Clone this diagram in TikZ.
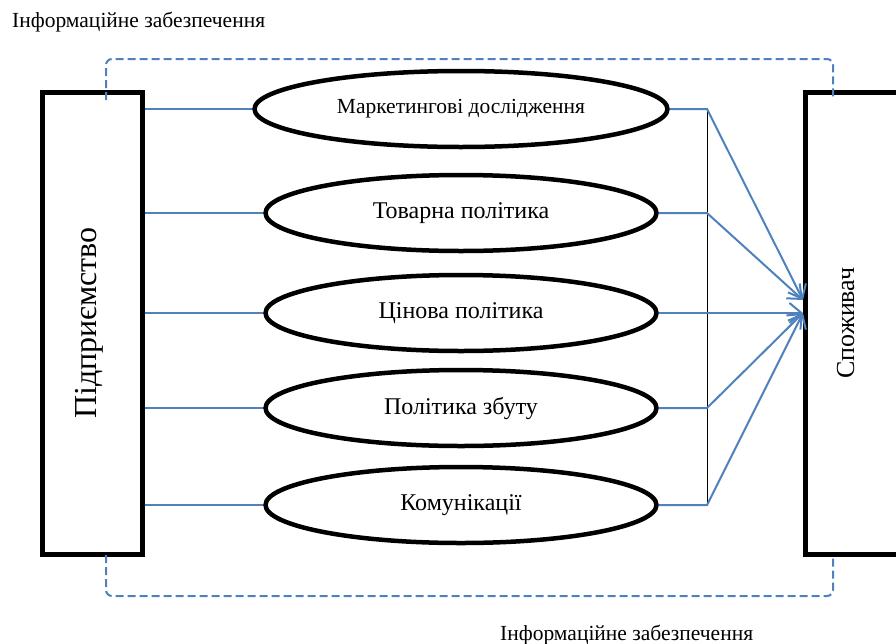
\documentclass[tikz,border=0pt]{standalone}
\usepackage{fontspec}
\setmainfont{Liberation Serif}
\usetikzlibrary{arrows.meta,positioning,shapes.geometric,calc}
\definecolor{linkblue}{HTML}{4F81BD}

\begin{document}
\begin{tikzpicture}[x=1pt, y=-1pt, >={Straight Barb[length=12pt, width=20pt]},
  every node/.style={inner sep=0pt, align=center},
  bigbox/.style={draw, line width=5pt, minimum width=100pt, minimum height=462pt},
  area/.style={draw, ellipse, line width=4.5pt, minimum width=391pt, minimum height=76pt, font=\fontsize{24}{28}\selectfont},
  link/.style={linkblue, line width=2pt},
  infoline/.style={linkblue, line width=2pt, dash pattern=on 8pt off 4pt, rounded corners=6pt}]
  \clip (0,0) rectangle (896,643);
  \node[bigbox] (firm) at (92,323) {};
  \node[bigbox] (cons) at (855,323) {};
  \node[rotate=90, anchor=base, font=\fontsize{32}{36}\selectfont] (firmtxt) at (96,323) {Підприємство};
  \node[rotate=90, anchor=base, font=\fontsize{26}{30}\selectfont] (constxt) at (854,323) {Споживач};
  \node[area, minimum width=413pt, font=\fontsize{21.5}{26}\selectfont] (mkt) at (461,109) {Маркетингові дослідження};
  \node[area] (prod) at (461,213) {Товарна політика};
  \node[area] (price) at (461,313) {Цінова політика};
  \node[area] (dist) at (461,408) {Політика збуту};
  \node[area] (comm) at (461,505) {Комунікації};
  \coordinate (bus) at (707,0);
  \coordinate (hubup) at (803,300);
  \coordinate (hubdown) at (803,313);
  % firm -> instruments
  \foreach \n in {mkt,prod,price,dist,comm}
    \draw[link] (firm.east |- \n) -- (\n.west);
  % instruments -> consumer
  \draw[line width=0.9pt] (mkt.east -| bus) -- (comm.east -| bus);
  \foreach \n/\h in {mkt/hubup, prod/hubup, price/hubdown, dist/hubdown, comm/hubdown}
    \draw[link, ->] (\n.east) -- (\n.east -| bus) -- (\h);
  % information support
  \coordinate (topL) at (106,100);
  \coordinate (topR) at (833,100);
  \coordinate (botL) at (106,555);
  \coordinate (botR) at (833,555);
  \draw[infoline] (topL) -- ++(0,-41) -| (topR);
  \draw[infoline] (botL) -- ++(0,41) -| (botR);
  \node[anchor=base west, font=\fontsize{21.5}{26}\selectfont] (infotop) at (12,27) {Інформаційне забезпечення};
  \node[anchor=base west, font=\fontsize{21.5}{26}\selectfont] (infobot) at (500,640) {Інформаційне забезпечення};
\end{tikzpicture}
\end{document}
